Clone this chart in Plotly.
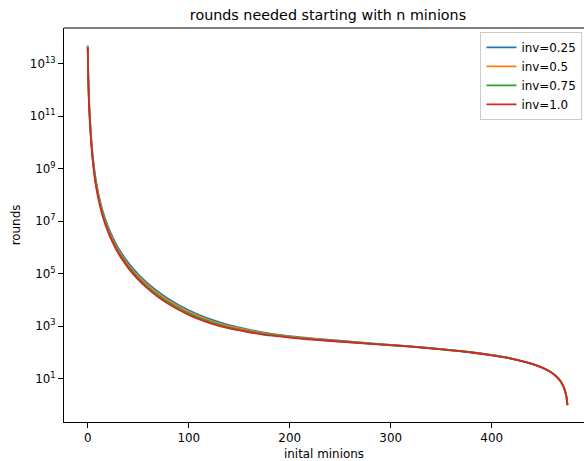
import plotly.graph_objects as go

# initial minions (sample positions)
minions = [0, 0.5, 1, 1.5, 2, 3, 4, 5, 6, 8, 10, 12.5, 15, 20, 25, 30, 35, 40, 50, 60, 70,
           80, 90, 100, 110, 124, 140, 157, 175, 190, 210, 225, 255, 290, 320, 350, 380,
           400, 415, 430, 440, 450, 458, 463, 468, 471, 473, 474, 475]

# log10(rounds) for each inv value
log_rounds_025 = [13.68, 12.58, 11.92, 11.45, 11.05, 10.40, 9.90, 9.48, 9.13, 8.57, 8.15, 7.72,
                  7.36, 6.80, 6.36, 5.99, 5.69, 5.42, 4.972, 4.608, 4.299, 4.037, 3.809, 3.609,
                  3.438, 3.23, 3.043, 2.89, 2.756, 2.67, 2.58, 2.53, 2.43, 2.32, 2.235, 2.13,
                  2.01, 1.906, 1.811, 1.675, 1.567, 1.425, 1.265, 1.124, 0.914, 0.708, 0.49,
                  0.32, 0.0]
log_rounds_05 = [13.65, 12.54, 11.86, 11.38, 10.98, 10.33, 9.83, 9.41, 9.06, 8.50, 8.08, 7.65,
                 7.29, 6.73, 6.29, 5.92, 5.62, 5.35, 4.906, 4.54, 4.234, 3.97, 3.75, 3.55,
                 3.38, 3.18, 3.00, 2.857, 2.728, 2.65, 2.563, 2.513, 2.42, 2.313, 2.23, 2.127,
                 2.007, 1.90, 1.807, 1.675, 1.567, 1.425, 1.265, 1.124, 0.914, 0.708, 0.49,
                 0.32, 0.0]
log_rounds_075 = [13.63, 12.49, 11.81, 11.32, 10.92, 10.27, 9.77, 9.35, 9.00, 8.44, 8.02, 7.59,
                  7.23, 6.67, 6.23, 5.86, 5.56, 5.29, 4.841, 4.48, 4.169, 3.91, 3.69, 3.49,
                  3.33, 3.13, 2.957, 2.823, 2.70, 2.63, 2.546, 2.497, 2.41, 2.307, 2.225, 2.123,
                  2.003, 1.895, 1.804, 1.675, 1.567, 1.425, 1.265, 1.124, 0.914, 0.708, 0.49,
                  0.32, 0.0]
log_rounds_10 = [13.60, 12.45, 11.75, 11.25, 10.85, 10.20, 9.70, 9.28, 8.93, 8.37, 7.95, 7.52,
                 7.16, 6.60, 6.16, 5.79, 5.49, 5.22, 4.775, 4.41, 4.104, 3.847, 3.625, 3.433,
                 3.27, 3.08, 2.914, 2.79, 2.673, 2.61, 2.529, 2.48, 2.40, 2.30, 2.22, 2.12,
                 2.00, 1.89, 1.80, 1.675, 1.567, 1.425, 1.265, 1.124, 0.914, 0.708, 0.49,
                 0.32, 0.0]

series_names = ["inv=0.25", "inv=0.5", "inv=0.75", "inv=1.0"]
series_logs = [log_rounds_025, log_rounds_05, log_rounds_075, log_rounds_10]
colors = ["#1f77b4", "#ff7f0e", "#2ca02c", "#d62728"]

y_tick_vals = [1e1, 1e3, 1e5, 1e7, 1e9, 1e11, 1e13]
y_tick_text = ["10<sup>1</sup>", "10<sup>3</sup>", "10<sup>5</sup>", "10<sup>7</sup>",
               "10<sup>9</sup>", "10<sup>11</sup>", "10<sup>13</sup>"]
x_tick_vals = [0, 100, 200, 300, 400]

FONT = "DejaVu Sans"
FS = 11.9
fig = go.Figure()
for name, logs, c in zip(series_names, series_logs, colors):
    fig.add_trace(go.Scatter(
        x=minions, y=[10 ** v for v in logs], mode="lines", name=name,
        line=dict(color=c, width=1.8, shape="spline", smoothing=0.6),
    ))

fig.update_layout(
    width=584, height=461,
    margin=dict(l=64, r=0, t=28, b=39),
    paper_bgcolor="white", plot_bgcolor="white",
    font=dict(family=FONT, size=FS, color="black"),
    title=dict(text="rounds needed starting with n minions", font=dict(size=14.3, color="black"),
               xref="paper", x=0.5077, xanchor="center",
               yref="container", y=1 - 15 / 461, yanchor="middle"),
    legend=dict(x=0.997, xanchor="right", y=0.99, yanchor="top",
                bgcolor="white", bordercolor="#cccccc", borderwidth=1,
                font=dict(size=FS), itemwidth=30, tracegroupgap=0),
    showlegend=True,
)
fig.update_xaxes(
    range=[-23.5, 491.4], tickvals=x_tick_vals,
    ticks="outside", ticklen=5, tickwidth=1, tickcolor="black",
    showline=True, linecolor="black", linewidth=1, showgrid=False, zeroline=False,
    title=dict(text="inital minions", standoff=5, font=dict(size=FS)),
)
fig.update_yaxes(
    type="log", range=[-0.645, 14.35], tickvals=y_tick_vals, ticktext=y_tick_text,
    ticks="outside", ticklen=5, tickwidth=1, tickcolor="black",
    showline=True, linecolor="black", linewidth=1, showgrid=False, zeroline=False,
    title=dict(text="rounds", standoff=6, font=dict(size=FS)),
)
fig.add_shape(type="line", xref="paper", yref="paper", x0=0, x1=1, y0=1, y1=1,
              line=dict(color="black", width=1))

fig.write_html("out.html")
